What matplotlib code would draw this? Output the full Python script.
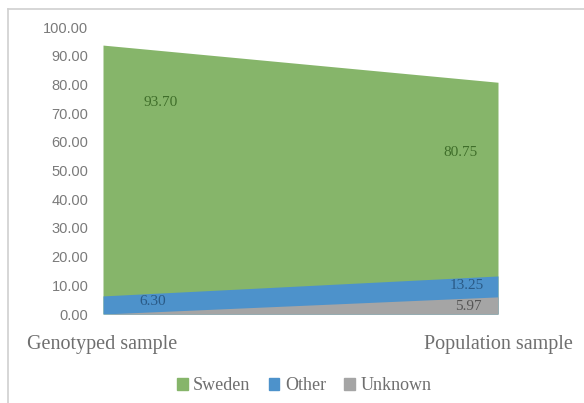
import numpy as np
import matplotlib.pyplot as plt
from matplotlib.lines import Line2D
from matplotlib.patches import Patch

plt.rcParams["font.family"] = ["Liberation Serif", "DejaVu Serif"]

categories = ["Genotyped sample", "Population sample"]
sweden = [93.70, 80.75]
other = [6.30, 13.25]
unknown = [0.00, 5.97]
yticks = [0, 10, 20, 30, 40, 50, 60, 70, 80, 90, 100]

green = "#86b56a"
blue = "#4d92cb"
grey = "#a5a5a5"
serif = "Liberation Serif"

fig = plt.figure(figsize=(5.84, 4.03), dpi=100)
ax = fig.add_axes([103/584, 1-314/403, (498-103)/584, (314-27)/403])

x = np.arange(len(categories))
ax.fill_between(x, 0, sweden, color=green, lw=0)
ax.fill_between(x, 0, other, color=blue, lw=0)
ax.fill_between(x, 0, unknown, color=grey, lw=0)

ax.set_xlim(0, 1)
ax.set_ylim(0, 100)
ax.set_yticks(yticks)
ax.set_yticklabels([f"{v:.2f}" for v in yticks], fontsize=10.5, color="#7a7a7a",
                   family="Liberation Sans")
ax.tick_params(axis="y", length=0, pad=10.5)
ax.set_xticks([])
for s in ax.spines.values():
    s.set_visible(False)

# data labels
ax.text(0.145, sweden[0] - 20, f"{sweden[0]:.2f}", ha="center", va="center",
        fontsize=11, family=serif, color="#3f6e2a")
ax.text(0.905, sweden[1] - 24.6, f"{sweden[1]:.2f}", ha="center", va="center",
        fontsize=11, family=serif, color="#3f6e2a")
ax.text(0.125, other[0] - 2.1, f"{other[0]:.2f}", ha="center", va="center",
        fontsize=11, family=serif, color="#2a5a86")
ax.text(0.92, other[1] - 3.2, f"{other[1]:.2f}", ha="center", va="center",
        fontsize=11, family=serif, color="#2a5a86")
ax.text(0.925, unknown[1] - 3.5, f"{unknown[1]:.2f}", ha="center", va="center",
        fontsize=11, family=serif, color="#555555")

# category labels
fig.text(27/584, 1-345/403, categories[0], ha="left", va="center",
         fontsize=14.5, family=serif, color="#6f6f6f")
fig.text(573/584, 1-345/403, categories[1], ha="right", va="center",
         fontsize=14.5, family=serif, color="#6f6f6f")

handles = [Patch(color=green), Patch(color=blue), Patch(color=grey)]
fig.legend(handles, ["Sweden", "Other", "Unknown"], loc="center",
           bbox_to_anchor=(304/584, 1-386/403), ncol=3, frameon=False,
           prop={"family": serif, "size": 13}, handlelength=0.6, handleheight=0.6,
           handletextpad=0.3, columnspacing=1.0, labelcolor="#6f6f6f")

# chart frame (top and left edges visible)
fig.add_artist(Line2D([8/584, 1], [1-9/403, 1-9/403], color="#d0d0d0", lw=1.2))
fig.add_artist(Line2D([8/584, 8/584], [0, 1-9/403], color="#d0d0d0", lw=1.2))

fig.savefig("out.png", dpi=100)
